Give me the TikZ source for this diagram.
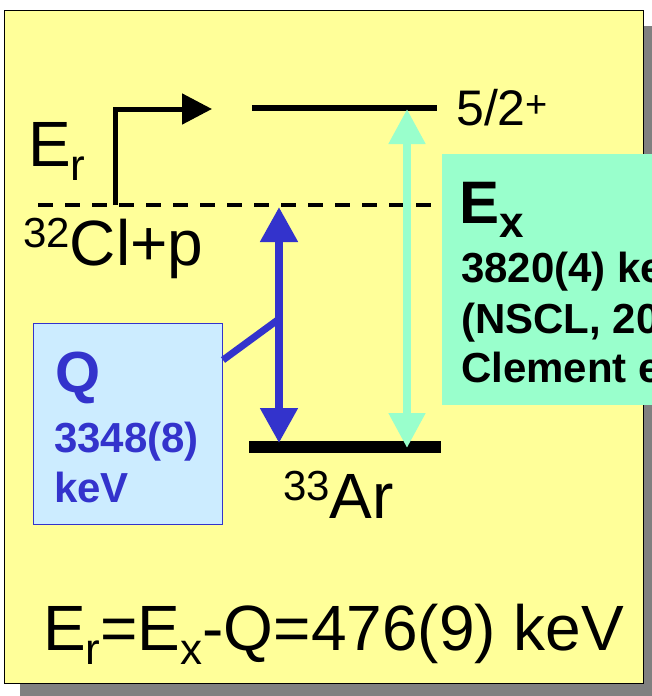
\documentclass[tikz,border=0pt]{standalone}
\usepackage{fontspec}
\setmainfont{Liberation Sans}
\usetikzlibrary{positioning,arrows.meta}
\definecolor{slideyellow}{HTML}{FFFF99}
\definecolor{slideshadow}{HTML}{808080}
\definecolor{qblue}{HTML}{3333CC}
\definecolor{qfill}{HTML}{CCECFF}
\definecolor{mint}{HTML}{99FFCC}
\newcommand{\isonum}[1]{\raisebox{18pt}{\fontsize{42}{42}\selectfont #1}}
\newcommand{\lowsub}[1]{\raisebox{-14pt}{\fontsize{44}{44}\selectfont #1}}

\begin{document}
\begin{tikzpicture}[x=1pt, y=-1pt, every node/.style={inner sep=0pt, anchor=base west}, big/.style={font=\fontsize{64}{64}\selectfont}, spin/.style={font=\fontsize{50}{50}\selectfont}, boxtext/.style={font=\bfseries\fontsize{42}{42}\selectfont}, level/.style={line width=6pt}, groundlevel/.style={line width=12pt}, qarrow/.style={qblue, line width=8pt, {Triangle[length=35pt,width=36pt]}-{Triangle[length=35pt,width=36pt]}}, exarrow/.style={mint, line width=8pt, {Triangle[length=35pt,width=35pt]}-{Triangle[length=35pt,width=35pt]}}, infobox/.style={anchor=north west, inner sep=0pt}]

\useasboundingbox (0,0) rectangle (652,696);
\clip (0,0) rectangle (652,696);
\fill[slideshadow] (20,26) rectangle (666,710);
\filldraw[fill=slideyellow, draw=black, line width=1pt] (4,10) rectangle (643,683);

\coordinate (resL) at (252,108);
\coordinate (resR) at (437,108);
\coordinate (gsL) at (249,447);
\coordinate (gsR) at (441,447);
\coordinate (thrL) at (38,205);
\coordinate (thrR) at (442,205);
\coordinate (erfoot) at (115,205);
\coordinate (ertip) at (212,109);
\coordinate (qtop) at (279,207);
\coordinate (qbot) at (279,443);
\coordinate (qmid) at (279,319);
\coordinate (extop) at (407,109);
\coordinate (exbot) at (407,448);

\draw[level] (resL) -- (resR);
\draw[groundlevel] (gsL) -- (gsR);
\draw[line width=4pt, dash pattern=on 15pt off 12pt] (thrL) -- (thrR);
\draw[line width=5pt, -{Triangle[length=30pt,width=30pt]}] (erfoot) |- (ertip);

\path
 (qtop) edge[qarrow] (qbot)
 (exbot) edge[exarrow] (extop);

\node[infobox, fill=qfill, draw=qblue, line width=1pt, minimum width=189pt, minimum height=201pt] (qbox) at (33,323) {};
\coordinate (qlink) at ([yshift=-37pt]qbox.north east);
\draw[qblue, line width=7pt] (qlink) -- (qmid);
\node[infobox, fill=mint, minimum width=260pt, minimum height=251pt] (exbox) at (442,154) {};

\node[big] (erlabel) at (28,166) {E\lowsub{r}};
\node[big] (cllabel) at (23,265) {\isonum{32}Cl+p};
\node[spin] (spinlabel) at (456,125) {5/2\raisebox{8pt}{\fontsize{38}{38}\selectfont +}};
\node[big] (arlabel) at (283,518) {\isonum{33}Ar};

\node[font=\bfseries\fontsize{58}{58}\selectfont, text=qblue] (qsym) at (55,392) {Q};
\node[boxtext, text=qblue] (qvalue) at (54,452) {3348(8)};
\node[boxtext, text=qblue] (qunit) at (54,502) {keV};

\node[font=\bfseries\fontsize{60}{60}\selectfont] (exsym) at (459,223) {E\lowsub{x}};
\node[boxtext] (exvalue) at (461,282) {3820(4) ke};
\node[boxtext] (exlab) at (461,333) {(NSCL, 20};
\node[boxtext] (exref) at (461,382) {Clement e};

\node[big] (relation) at (43,650) {E\lowsub{r}=E\lowsub{x}-Q=476(9) keV};
\end{tikzpicture}
\end{document}
